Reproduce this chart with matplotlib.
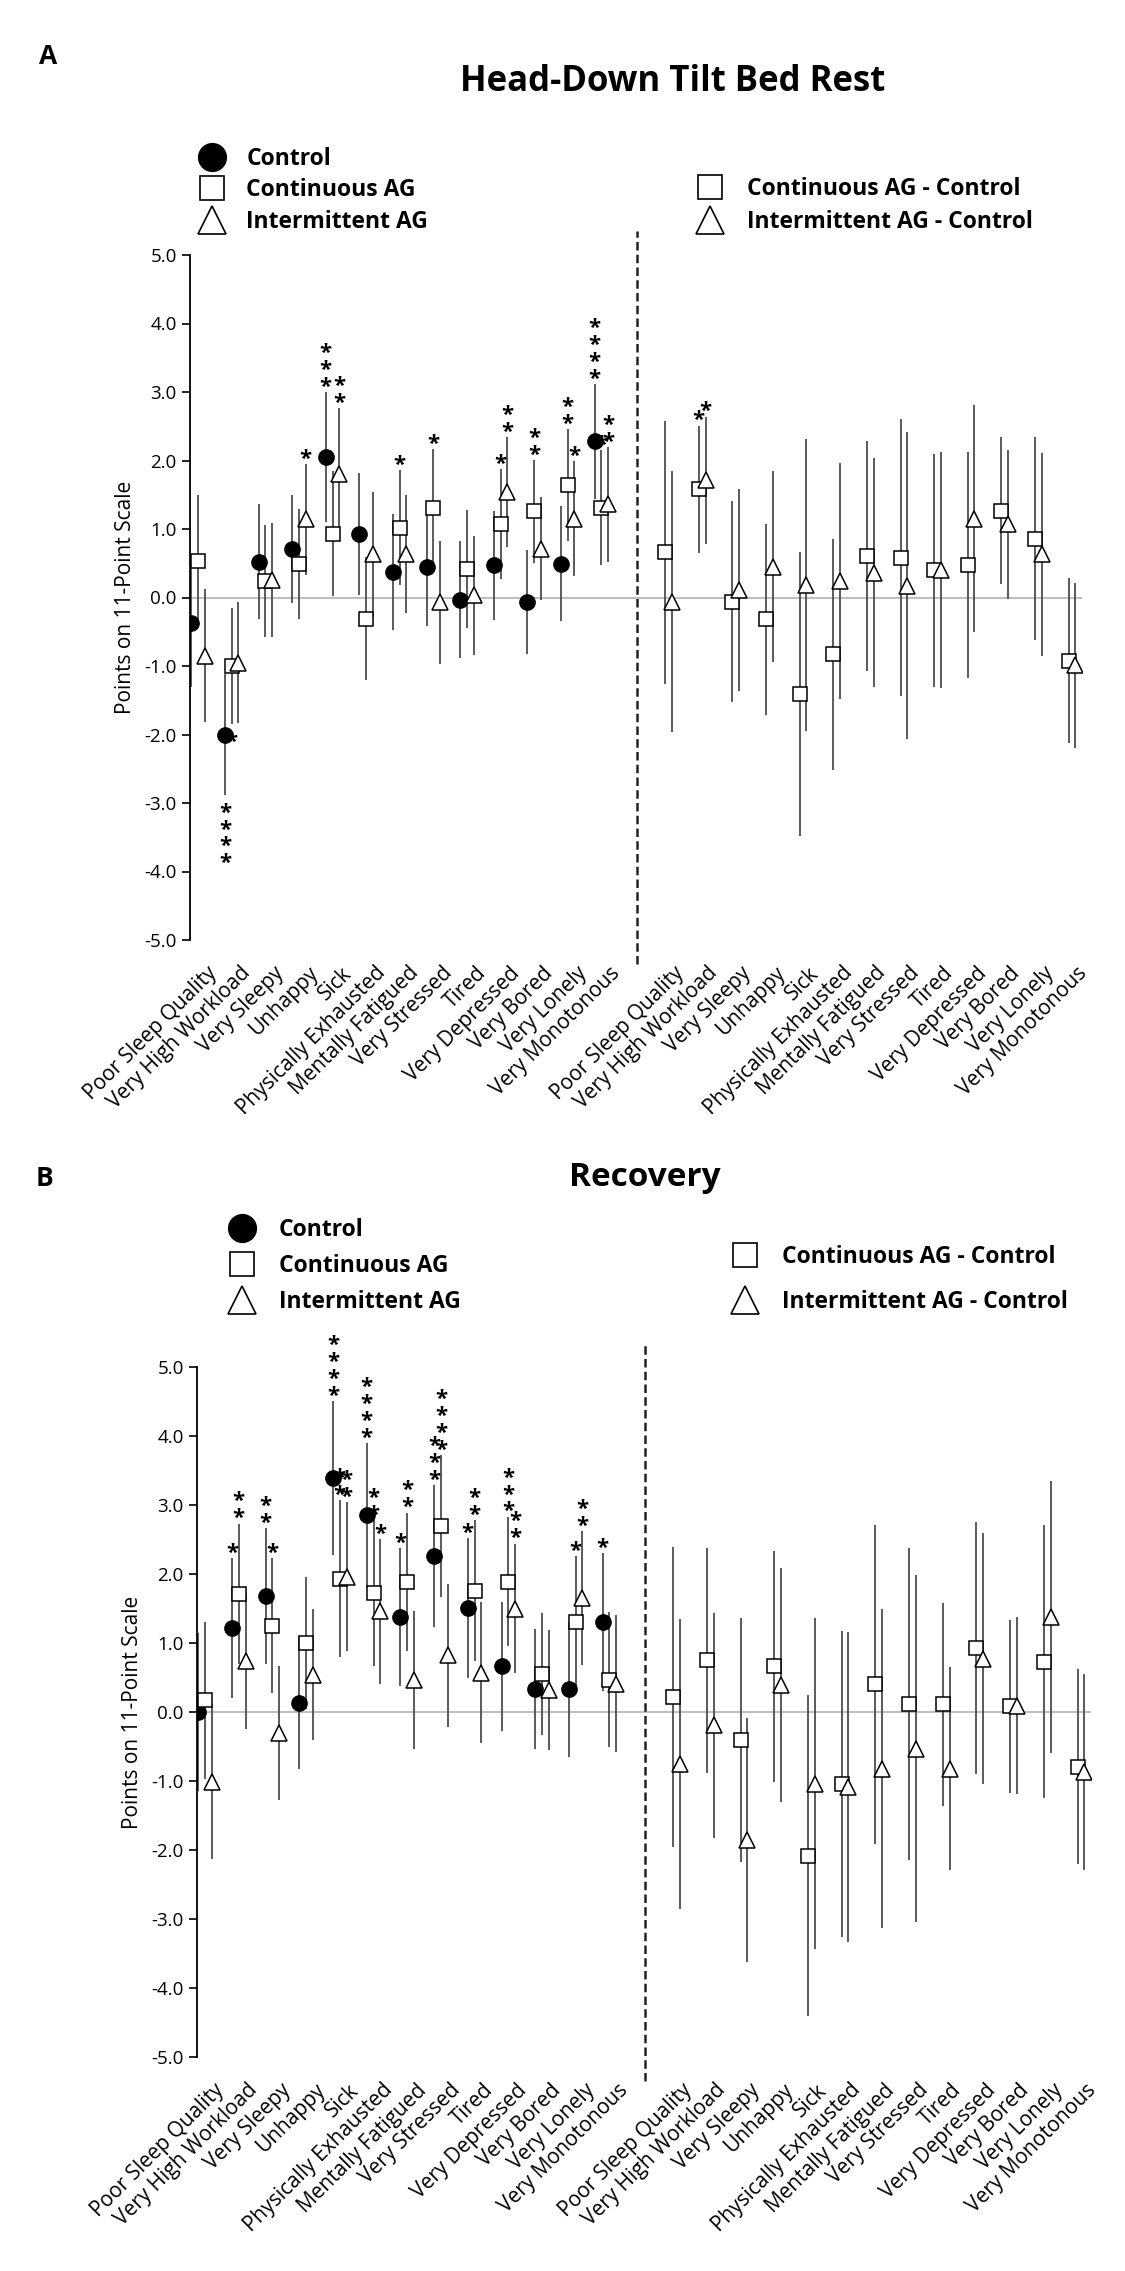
import numpy as np
import matplotlib.pyplot as plt
from matplotlib.lines import Line2D

plt.rcParams['font.family'] = ['Open Sans', 'DejaVu Sans']

W, H = 1125, 2271  # figure size in pixels

items = ['Poor Sleep Quality', 'Very High Workload', 'Very Sleepy', 'Unhappy', 'Sick',
         'Physically Exhausted', 'Mentally Fatigued', 'Very Stressed', 'Tired',
         'Very Depressed', 'Very Bored', 'Very Lonely', 'Very Monotonous']

# A: head-down tilt bed rest
hdt_ctrl = [-0.37, -2.00, 0.52, 0.71, 2.05, 0.93, 0.37, 0.45, -0.03, 0.47, -0.07, 0.49, 2.28]
hdt_ctrl_err = [0.93, 0.88, 0.84, 0.79, 0.95, 0.89, 0.85, 0.86, 0.85, 0.80, 0.76, 0.84, 0.84]
hdt_cont = [0.53, -1.00, 0.24, 0.49, 0.93, -0.31, 1.02, 1.30, 0.42, 1.07, 1.26, 1.64, 1.31]
hdt_cont_err = [0.97, 0.85, 0.82, 0.80, 0.91, 0.90, 0.84, 0.87, 0.86, 0.80, 0.75, 0.82, 0.84]
hdt_int = [-0.85, -0.95, 0.26, 1.14, 1.80, 0.63, 0.64, -0.07, 0.03, 1.54, 0.71, 1.15, 1.36]
hdt_int_err = [0.97, 0.88, 0.83, 0.81, 0.97, 0.91, 0.86, 0.90, 0.87, 0.80, 0.75, 0.84, 0.84]
hdt_dcont = [0.66, 1.58, -0.06, -0.32, -1.41, -0.83, 0.60, 0.58, 0.40, 0.48, 1.27, 0.86, -0.92]
hdt_dcont_err = [1.92, 0.93, 1.47, 1.39, 2.07, 1.69, 1.68, 2.02, 1.70, 1.65, 1.07, 1.48, 1.21]
hdt_dint = [-0.06, 1.71, 0.11, 0.45, 0.18, 0.24, 0.36, 0.17, 0.40, 1.15, 1.07, 0.63, -0.99]
hdt_dint_err = [1.90, 0.93, 1.47, 1.39, 2.13, 1.72, 1.67, 2.24, 1.72, 1.66, 1.09, 1.48, 1.20]
# number of asterisks (negative = drawn below the bar)
hdt_sig_ctrl = [0, -4, 0, 0, 3, 0, 0, 0, 0, 0, 0, 0, 4]
hdt_sig_cont = [0, -1, 0, 0, 0, 0, 1, 1, 0, 1, 2, 2, 1]
hdt_sig_int = [0, 0, 0, 1, 2, 0, 0, 0, 0, 2, 0, 1, 2]
hdt_sig_dcont = [0, 1, 0, 0, 0, 0, 0, 0, 0, 0, 0, 0, 0]
hdt_sig_dint = [0, 1, 0, 0, 0, 0, 0, 0, 0, 0, 0, 0, 0]

# B: recovery
rec_ctrl = [0.00, 1.22, 1.68, 0.13, 3.39, 2.85, 1.37, 2.26, 1.51, 0.66, 0.33, 0.33, 1.30]
rec_ctrl_err = [1.14, 1.01, 0.98, 0.95, 1.12, 1.05, 1.00, 1.03, 1.01, 0.94, 0.87, 0.98, 1.00]
rec_cont = [0.17, 1.71, 1.25, 1.00, 1.93, 1.72, 1.89, 2.69, 1.76, 1.89, 0.55, 1.30, 0.47]
rec_cont_err = [1.14, 1.02, 0.98, 0.96, 1.14, 1.06, 1.00, 1.03, 1.02, 0.94, 0.88, 0.96, 0.98]
rec_int = [-1.01, 0.74, -0.30, 0.54, 1.96, 1.46, 0.47, 0.82, 0.57, 1.50, 0.32, 1.65, 0.41]
rec_int_err = [1.12, 0.99, 0.97, 0.95, 1.08, 1.05, 1.00, 1.04, 1.02, 0.94, 0.87, 0.97, 0.99]
rec_dcont = [0.22, 0.75, -0.41, 0.66, -2.08, -1.04, 0.40, 0.11, 0.11, 0.93, 0.08, 0.73, -0.79]
rec_dcont_err = [2.17, 1.63, 1.77, 1.68, 2.32, 2.22, 2.31, 2.26, 1.47, 1.83, 1.26, 1.98, 1.41]
rec_dint = [-0.75, -0.19, -1.85, 0.39, -1.04, -1.09, -0.82, -0.53, -0.82, 0.77, 0.09, 1.38, -0.87]
rec_dint_err = [2.10, 1.63, 1.77, 1.69, 2.40, 2.25, 2.31, 2.51, 1.47, 1.82, 1.28, 1.97, 1.42]
rec_sig_ctrl = [0, 1, 2, 0, 4, 4, 1, 3, 1, 0, 0, 0, 1]
rec_sig_cont = [0, 2, 1, 0, 2, 2, 2, 4, 2, 3, 0, 1, 0]
rec_sig_int = [0, 0, 0, 0, 2, 1, 0, 0, 0, 2, 0, 2, 0]
rec_sig_dcont = [0] * 13
rec_sig_dint = [0] * 13

# x positions: 13 items on the left, 13 differences right of the dashed line
idx = np.arange(len(items))
x_left = idx
x_right = idx + 14.0
x_split = 13.05

ecol = '#4d4d4d'
ctrl_style = dict(marker='o', ms=11, mfc='black', mec='black', ls='none', zorder=3)
cont_style = dict(marker='s', ms=9.5, mfc='white', mec='black', mew=1.1, ls='none', zorder=3)
int_style = dict(marker='^', ms=11.5, mfc='white', mec='black', mew=1.1, ls='none', zorder=4)


def stars(ax, x, y, err, n):
    for xi, yi, ei, ni in zip(x, y, err, n):
        sgn = 1 if ni > 0 else -1
        for k in range(abs(ni)):
            ax.annotate('*', (xi, yi + sgn * (ei + 0.17 + 0.245 * k)), xytext=(0, -5),
                        textcoords='offset points', ha='center', va='center',
                        fontsize=16, fontweight='bold', annotation_clip=False)


def series(ax, x, y, err, style, sig):
    ax.errorbar(x, y, yerr=err, fmt='none', ecolor=ecol, elinewidth=1.3, capsize=0, zorder=2)
    ax.plot(x, y, **style)
    stars(ax, x, y, err, sig)


def panel(rect, ctrl, ctrl_err, cont, cont_err, inter, inter_err,
          dcont, dcont_err, dint, dint_err, s_ctrl, s_cont, s_int, s_dcont, s_dint):
    ax = fig.add_axes(rect)
    ax.axhline(0, color='#bfbfbf', lw=1.5, zorder=0)
    series(ax, x_left - 0.2, ctrl, ctrl_err, ctrl_style, s_ctrl)
    series(ax, x_left, cont, cont_err, cont_style, s_cont)
    series(ax, x_left + 0.2, inter, inter_err, int_style, s_int)
    series(ax, x_right - 0.1, dcont, dcont_err, cont_style, s_dcont)
    series(ax, x_right + 0.1, dint, dint_err, int_style, s_dint)
    ax.plot([x_split, x_split], [-5.35, 5.35], color='#222222', lw=1.8,
            dashes=(3.4, 1.7), clip_on=False)

    ax.set_xlim(-0.24, 26.3)
    ax.set_ylim(-5, 5)
    ax.set_yticks(np.arange(-5, 6, 1))
    ax.set_yticklabels(['%.1f' % v for v in np.arange(-5, 6, 1)], fontsize=13.5)
    ax.tick_params(axis='y', length=6, width=1.2, direction='out')
    ax.set_xticks([])
    for s in ['top', 'right', 'bottom']:
        ax.spines[s].set_visible(False)
    ax.spines['left'].set_linewidth(1.3)
    ax.set_ylabel('Points on 11-Point Scale', fontsize=15)
    ax.yaxis.set_label_coords(-0.06, 0.5)

    for xi, lab in zip(x_left + 0.25, items):
        ax.text(xi, -5.33, lab, rotation=45, ha='right', va='top',
                rotation_mode='anchor', fontsize=15)
    for xi, lab in zip(x_right + 0.15, items):
        ax.text(xi, -5.33, lab, rotation=45, ha='right', va='top',
                rotation_mode='anchor', fontsize=15)
    return ax


def legend(handles, labels, x0, y0, spacing, pad):
    fig.legend(handles, labels, loc='upper left', bbox_to_anchor=(x0 / W, 1 - y0 / H),
               frameon=False, borderpad=0, borderaxespad=0, handlelength=1.0,
               handletextpad=pad, labelspacing=spacing,
               prop=dict(weight='bold', size=16.5))


fig = plt.figure(figsize=(W / 100, H / 100), dpi=100)

panel([190 / W, 1 - 940 / H, 892 / W, 685 / H],
      hdt_ctrl, hdt_ctrl_err, hdt_cont, hdt_cont_err, hdt_int, hdt_int_err,
      hdt_dcont, hdt_dcont_err, hdt_dint, hdt_dint_err,
      hdt_sig_ctrl, hdt_sig_cont, hdt_sig_int, hdt_sig_dcont, hdt_sig_dint)
panel([197 / W, 1 - 2057 / H, 894 / W, 690 / H],
      rec_ctrl, rec_ctrl_err, rec_cont, rec_cont_err, rec_int, rec_int_err,
      rec_dcont, rec_dcont_err, rec_dint, rec_dint_err,
      rec_sig_ctrl, rec_sig_cont, rec_sig_int, rec_sig_dcont, rec_sig_dint)

h_ctrl = Line2D([], [], marker='o', ms=20, mfc='black', mec='black', ls='none')
h_cont = Line2D([], [], marker='s', ms=17, mfc='white', mec='black', mew=1.2, ls='none')
h_int = Line2D([], [], marker='^', ms=20, mfc='white', mec='black', mew=1.2, ls='none')

legend([h_ctrl, h_cont, h_int], ['Control', 'Continuous AG', 'Intermittent AG'],
       201, 147, 0.32, 0.97)
legend([h_cont, h_int], ['Continuous AG - Control', 'Intermittent AG - Control'],
       699, 177, 0.41, 1.1)
legend([h_ctrl, h_cont, h_int], ['Control', 'Continuous AG', 'Intermittent AG'],
       231, 1218, 0.52, 1.1)
legend([h_cont, h_int], ['Continuous AG - Control', 'Intermittent AG - Control'],
       734, 1245, 0.9, 1.1)

fig.text(673 / W, 1 - 82 / H, 'Head-Down Tilt Bed Rest', ha='center', va='center',
         fontsize=25, fontweight='bold')
fig.text(645 / W, 1 - 1177 / H, 'Recovery', ha='center', va='center',
         fontsize=24, fontweight='bold')
fig.text(48 / W, 1 - 57 / H, 'A', ha='center', va='center', fontsize=19, fontweight='bold')
fig.text(44 / W, 1 - 1178 / H, 'B', ha='center', va='center', fontsize=19, fontweight='bold')

fig.savefig('out.png', dpi=100)
